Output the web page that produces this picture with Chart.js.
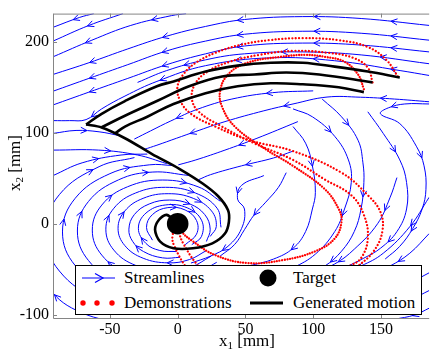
<!DOCTYPE html>
<html lang="en">
<head>
  <meta charset="UTF-8" />
  <title>Streamlines, demonstrations and generated motion</title>
  <script src="https://cdn.jsdelivr.net/npm/chart.js"></script>
  <style>
    html, body { margin: 0; padding: 0; background: #fff; }
    body { width: 440px; height: 355px; overflow: hidden; font-family: "Liberation Serif", "Times New Roman", Tinos, "Noto Serif", "DejaVu Serif", serif; color: #000; }
    .wrap { position: relative; width: 440px; height: 355px; }
    .wrap canvas { position: absolute; left: 0; top: 0; }
    .xlabel { position: absolute; left: 187px; top: 331px; width: 120px; line-height: 20px; text-align: center; font-size: 17px; }
    .ylabel { position: absolute; left: -35px; top: 153px; width: 100px; line-height: 20px; text-align: center; font-size: 17px; transform: rotate(-90deg); }
    sub { font-size: 11px; vertical-align: -3px; line-height: 0; }
    .legend { position: absolute; left: 75px; top: 265px; width: 347px; height: 50px; box-sizing: border-box; border: 1px solid #000; background: #fff; }
    .legend span { position: absolute; font-size: 17px; line-height: 20px; white-space: nowrap; }
    .legend svg { position: absolute; }
  </style>
</head>
<body>
<div class="wrap">
  <canvas id="flow" width="440" height="355"></canvas>
  <div class="xlabel">x<sub>1</sub> [mm]</div>
  <div class="ylabel">x<sub>2</sub> [mm]</div>

  <!-- legend -->
  <div class="legend">
    <svg style="left:6px;top:6px" width="36" height="12">
      <line x1="0" y1="6" x2="33" y2="6" stroke="#0000ff" stroke-width="1.2" />
      <polyline points="13,1.5 21,6 13,10.5" fill="none" stroke="#0000ff" stroke-width="1.2" />
    </svg>
    <span style="left:48px;top:2px">Streamlines</span>
    <svg style="left:182px;top:2px" width="20" height="20">
      <circle cx="10" cy="10" r="8.5" fill="#000" />
    </svg>
    <span style="left:217px;top:2px">Target</span>
    <svg style="left:2px;top:31px" width="42" height="12">
      <circle cx="5" cy="6" r="2.7" fill="#ff0000" />
      <circle cx="19" cy="6" r="2.7" fill="#ff0000" />
      <circle cx="34" cy="6" r="2.7" fill="#ff0000" />
    </svg>
    <span style="left:48px;top:27px">Demonstrations</span>
    <svg style="left:174px;top:31px" width="34" height="12">
      <line x1="0" y1="6" x2="33" y2="6" stroke="#000" stroke-width="3" />
    </svg>
    <span style="left:217px;top:27px">Generated motion</span>
  </div>
</div>

<script>
  // axes
  const xTicks = [-50, 0, 50, 100, 150];
  const yTicks = [-100, 0, 100, 200];
  const xRange = [-92, 185.6];
  const yRange = [-103.6, 230.9];

  const target = [[0, 0]];

  // demonstrations (red, dotted)
  const demoA = [[137.4,147.8],[133.1,164.0],[123.1,178.0],[108.7,183.4],[94.4,185.5],[75.8,183.4],[51.4,176.9],[37.1,164.0],[31.3,145.6],[32.8,128.4],[42.1,106.8],[63.6,83.1],[85.1,63.6],[108.7,37.8],[118.8,16.2],[120.9,2.2],[115.9,-16.2],[101.6,-30.2],[77.9,-39.9],[51.4,-43.2],[27.7,-34.5],[11.3,-19.4],[2.7,-8.6],[0,0]];
  const demoB = [[143.8,155.3],[140.3,171.5],[129.5,182.3],[111.6,187.7],[85.1,189.9],[60.0,185.5],[38.5,178.0],[22.0,167.2],[12.7,153.2],[10.5,137.0],[15.6,123.0],[31.3,107.9],[56.4,88.5],[85.1,70.1],[108.7,48.5],[128.1,31.3],[137.4,9.7],[140.3,-16.2],[135.3,-37.8],[126.7,-46.4],[99.4,-68.0],[56.4,-75.5],[26.3,-62.6],[13.4,-43.1],[4.1,-21.6],[1.2,-10.8],[0,0]];
  const demoC = [[162.5,161.8],[153.9,180.1],[140.3,194.2],[118.8,201.7],[92.3,203.9],[67.2,201.7],[45.7,196.3],[27.7,187.7],[13.4,176.9],[4.1,164.0],[-0.2,149.9],[2.0,134.8],[9.8,120.8],[27.7,106.8],[52.9,91.7],[85.1,79.8],[120.9,56.1],[140.3,31.3],[149.6,12.9],[151.0,-8.6],[144.6,-30.2],[133.1,-46.4],[106.6,-75.5],[63.6,-86.3],[24.2,-73.4],[8.4,-51.8],[-2.4,-24.8],[-3.8,-12.9],[0,0]];

  // generated motions (black): three upper arcs joining one descent into the target
  const motionTop1 = [[163.9,160.7],[140.3,167.2],[115.9,172.6],[92.3,176.9],[68.6,176.9],[44.2,173.7],[20.6,167.2],[-3.1,156.4],[-15.3,151.0],[-38.9,134.8],[-56.1,120.8],[-67.6,109.0]];
  const motionTop2 = [[143.8,155.3],[104.4,164.0],[80.1,166.1],[56.4,164.0],[32.8,161.8],[8.4,151.0],[-15.3,134.8],[-38.9,118.7],[-56.1,106]];
  const motionTop3 = [[137.4,144.6],[118.8,149.9],[92.3,153.2],[68.6,154.3],[44.2,151.0],[20.6,143.5],[-3.1,131.6],[-22.4,117.6],[-38.9,106.8],[-46,99.5]];
  const motionDescent = [[-67.6,109.0],[-56.1,105.7],[-38.9,93.9],[-18.9,76.6],[1.2,60.4],[18.4,44.2],[29.9,30.2],[37.1,15.1],[37.8,2.2],[34.9,-10.8],[25.6,-21.6],[11.3,-27.0],[-3.1,-27.0],[-13.1,-19.4],[-16.7,-6.5],[-13.8,4.3],[-8.1,9.7],[0,0]];

  // streamlines, each listed in the flow direction
  const streamUpper = [
    [[-61.9,230.9],[-72.6,226.6],[-92,215.8]],
    [[-40.4,230.9],[-65.5,217.9],[-92,200.7]],
    [[6.2,230.9],[-4.5,228.7],[-34.6,217.9],[-63.3,201.7],[-92,183.4]],
    [[185.6,217.9],[135.4,225.5],[92.3,227.6],[49.3,224.4],[20.6,216.8],[-8.1,206.1],[-36.8,192.1],[-65.5,176.9],[-92,164.0]],
    [[185.6,201.7],[135.4,209.3],[92.3,211.5],[49.3,208.2],[20.6,200.7],[-8.1,189.9],[-36.8,174.8],[-65.5,159.7],[-92,145.6]],
    [[185.6,188.8],[135.4,196.3],[92.3,198.5],[49.3,195.3],[20.6,186.7],[-8.1,174.8],[-36.8,159.7],[-65.5,144.6],[-92,130.5]],
    [[185.6,175.8],[135.4,185.5],[92.3,188.8],[49.3,186.7],[20.6,180.1],[-8.1,168.3],[-29.6,155.3]],
    [[185.6,162.9],[164.1,168.3],[115.9,179.1],[68.6,182.3],[20.6,173.7],[-15.3,156.4],[-38.9,140.3],[-56.1,126.2],[-67.6,114.4],[-79.8,113.3],[-92,113.3]]
  ];
  const streamLeft = [
    [[-92,99.2],[-75,102.5],[-58,101],[-42,96.5]],
    [[-92,80.9],[-58.3,80.9],[-29.6,75.5],[-8,66]],
    [[-92,52.9],[-70.5,66.9],[-41.8,75.5],[-22.4,76.5]]
  ];
  const streamWedge = [
    [[100,146],[70,144],[40,137],[15,126],[-5,113],[-20,102],[-32,93]],
    [[185.6,134],[160,137],[135,139],[110.2,139.2],[85.1,131.6],[63.6,124.1],[34.9,112.2],[13.4,101.4],[-0.9,93.9],[-15.3,86.3],[-25,81.5]],
    [[88.7,112.2],[58.5,93.9],[34.9,80.9],[13.4,70.1],[0.5,64.7]],
    [[85.1,79.8],[70.8,72.3],[47.1,63.6],[24.2,53.9],[15.6,48.5]]
  ];
  const streamRight = [
    [[85.1,126.2],[99.4,117.5],[115.9,96.0],[126.0,70.1],[128.1,45.3],[123.1,16.2],[115.9,-8.6],[101.6,-33.4],[85.1,-48.5],[63.6,-62.6],[42.1,-71.2]],
    [[106.6,137.0],[120.9,117.5],[133.1,91.7],[136.7,66.9],[137.4,45.3],[135.3,16.2],[130.3,-8.6],[120.9,-30.2],[108.7,-46.4],[88.7,-62.6]],
    [[140.3,123.0],[151.7,99.2],[163.9,70.1],[168.9,45.3],[168.9,16.2],[161.8,-8.6],[149.6,-27.0],[137.4,-37.8],[124.4,-47.5]],
    [[185.6,131.6],[167.6,131.6],[155.4,127.3],[149.6,120.8],[163.9,110.0],[176.1,85.2],[181.8,63.6],[183.2,37.8],[180.4,16.2],[173.4,-5.4],[163.9,-24.8],[153.1,-38.8]],
    [[85.1,106.8],[94.4,88.5],[99.4,63.6],[101.6,34.5],[99.4,16.2],[94.4,-8.6],[85.1,-27.0],[70.8,-38.8],[52.8,-46.4]],
    [[80.1,56.1],[74.3,39.9],[65.0,23.7],[56.4,9.7],[49.3,-6.5],[42.1,-22.7],[31.3,-35.6]],
    [[63.6,52.9],[47.1,42.1],[44.2,27.0],[49.3,16.2],[47.1,-5.4],[37.1,-24.8],[24.2,-35.6],[9.8,-43.2]]
  ];
  const streamEdge = [
    [[161.8,50.7],[156.8,29.1],[147.5,0],[130.3,-28],[115.9,-44.2],[95,-58]],
    [[185.6,29.1],[171.3,-3.2],[151.7,-32.4],[135.3,-46.4],[110,-62]],
    [[185.6,-10.8],[171.3,-32.4],[156.8,-46.4],[135,-62]],
    [[185.6,-53.9],[171.3,-64.7],[150,-75]],
    [[185.6,-73.4],[173.4,-82.0],[150,-92]],
    [[185.6,-92.8],[174.8,-100.3],[160,-105]]
  ];
  const streamSpiral = [
    [[10,-106],[-40,-108],[-75,-95],[-96,-68],[-104,-30]],
    [[33.4,-74.3],[9.4,-88.9],[-18,-94],[-58,-82.7],[-87.3,-52],[-98,-10],[-87.3,32],[-58,62.7],[-31.9,72.7]],
    [[38.6,-56.6],[14.6,-76],[-15,-83],[-50,-73],[-75.6,-46],[-85,-9],[-75.6,28],[-50,55],[-21,64.7],[-3,63.9]],
    [[33.7,-49.8],[12.8,-66.9],[-13,-73],[-43.5,-64.3],[-65.8,-40.5],[-74,-8],[-65.8,24.5],[-43.5,48.3],[-18.3,56.8],[7.9,53.1]],
    [[28.8,-42.4],[11,-56.8],[-11,-62],[-37,-54.6],[-56,-34.5],[-63,-7],[-56,20.5],[-37,40.6],[-11,48],[15,40.6],[31.6,24.6]],
    [[24.7,-35.6],[9.6,-47.7],[-9,-52],[-31,-45.8],[-47.1,-29],[-53,-6],[-47.1,17],[-31,33.8],[-9,40],[13,33.8],[29.1,17],[32,-4]],
    [[21.3,-29.4],[8.6,-39.4],[-7,-43],[-25.5,-37.9],[-39,-24],[-44,-5],[-39,14],[-25.5,27.9],[-7,33],[11.5,27.9],[25,14],[28.5,-3],[24,-14]],
    [[1.8,-36.9],[-11.2,-37.5],[-25.3,-30.5],[-33.2,-19.5],[-36,-6],[-32,10],[-21,21.7],[-6,26],[9,21.7],[20,10],[24,-6],[21.2,-19.5]],
    [[-0.8,-30.6],[-13.2,-29.4],[-23.4,-21.7],[-29,-5],[-23.4,11.7],[-9.2,20.6],[7,17.5],[17.6,3.9],[17.6,-13.9],[10.4,-23]],
    [[-18.6,-18.1],[-23,-4],[-18.6,10.1],[-7.3,17.7],[5.5,15.1],[13.9,3.5],[13.9,-11.5],[5.5,-23.1]]
  ];

  const BLUE = '#0000ff';
  const RED = '#ff0000';
  const FRAME = '#858585';

  function toXY(pts) {
    return pts.map(p => ({ x: p[0], y: p[1] }));
  }

  function curve(pts, color, width, extra) {
    return Object.assign({
      data: toXY(pts),
      showLine: true,
      borderColor: color,
      borderWidth: width,
      pointRadius: 0,
      tension: 0.4,
      fill: false
    }, extra || {});
  }

  const datasets = [];
  [streamUpper, streamLeft, streamWedge, streamRight, streamEdge, streamSpiral].forEach(group => {
    group.forEach(s => datasets.push(curve(s, BLUE, 1, { order: 4, arrows: true })));
  });
  datasets.push(curve(demoA, RED, 2.3, { order: 3, borderDash: [0.01, 2.6], borderCapStyle: 'round' }));
  datasets.push(curve(demoB, RED, 2.3, { order: 3, borderDash: [0.01, 3.4], borderCapStyle: 'round' }));
  datasets.push(curve(demoC, RED, 2.3, { order: 3, borderDash: [0.01, 3.4], borderCapStyle: 'round' }));
  [motionTop1, motionTop2, motionTop3].forEach(m => {
    datasets.push(curve(m, '#000', 2.6, { order: 2 }));
  });
  datasets.push(curve(motionDescent, '#000', 2.6, { order: 2, tension: 0.3 }));
  datasets.push({
    data: toXY(target),
    showLine: false,
    pointRadius: 10.8,
    pointBackgroundColor: '#000',
    pointBorderWidth: 0,
    order: 1
  });

  // arrowheads along each streamline, spaced by path length
  const arrowPlugin = {
    id: 'arrows',
    afterDatasetDraw(chart, args) {
      const ds = chart.data.datasets[args.index];
      if (!ds.arrows) return;
      const pts = args.meta.data;
      const path = [];
      for (let k = 0; k < pts.length - 1; k++) {
        const p = pts[k], q = pts[k + 1];
        const c1x = p.cp2x ?? p.x, c1y = p.cp2y ?? p.y;
        const c2x = q.cp1x ?? q.x, c2y = q.cp1y ?? q.y;
        for (let s = 0; s < 12; s++) {
          const t = s / 12, u = 1 - t;
          path.push([
            u * u * u * p.x + 3 * u * u * t * c1x + 3 * u * t * t * c2x + t * t * t * q.x,
            u * u * u * p.y + 3 * u * u * t * c1y + 3 * u * t * t * c2y + t * t * t * q.y
          ]);
        }
      }
      const last = pts[pts.length - 1];
      path.push([last.x, last.y]);

      const cum = [0];
      for (let k = 1; k < path.length; k++) {
        cum.push(cum[k - 1] + Math.hypot(path[k][0] - path[k - 1][0], path[k][1] - path[k - 1][1]));
      }
      const total = cum[cum.length - 1];
      const n = Math.max(1, Math.round(total / 85));
      const at = d => {
        let k = 1;
        while (k < cum.length - 1 && cum[k] < d) k++;
        const f = (d - cum[k - 1]) / ((cum[k] - cum[k - 1]) || 1);
        return [path[k - 1][0] + f * (path[k][0] - path[k - 1][0]), path[k - 1][1] + f * (path[k][1] - path[k - 1][1])];
      };

      const { ctx, chartArea: a } = chart;
      ctx.save();
      ctx.beginPath();
      ctx.rect(a.left, a.top, a.right - a.left, a.bottom - a.top);
      ctx.clip();
      ctx.strokeStyle = BLUE;
      ctx.lineWidth = 1;
      for (let j = 0; j < n; j++) {
        const d = (j + 0.5) * total / n;
        const tip = at(d);
        const back = at(Math.max(0, d - 4));
        const ang = Math.atan2(tip[1] - back[1], tip[0] - back[0]);
        const len = 7, spread = 0.45;
        ctx.beginPath();
        ctx.moveTo(tip[0] - len * Math.cos(ang - spread), tip[1] - len * Math.sin(ang - spread));
        ctx.lineTo(tip[0], tip[1]);
        ctx.lineTo(tip[0] - len * Math.cos(ang + spread), tip[1] - len * Math.sin(ang + spread));
        ctx.stroke();
      }
      ctx.restore();
    }
  };

  // MATLAB-like frame with inward ticks
  const framePlugin = {
    id: 'frame',
    afterDraw(chart) {
      const { ctx, chartArea: a, scales } = chart;
      ctx.save();
      ctx.strokeStyle = FRAME;
      ctx.lineWidth = 1;
      ctx.beginPath();
      ctx.moveTo(a.left + 0.5, a.top + 0.5);
      ctx.lineTo(a.right, a.top + 0.5);
      ctx.moveTo(a.left + 0.5, a.top);
      ctx.lineTo(a.left + 0.5, a.bottom + 0.5);
      ctx.lineTo(a.right, a.bottom + 0.5);
      xTicks.forEach(v => {
        const px = Math.round(scales.x.getPixelForValue(v)) + 0.5;
        ctx.moveTo(px, a.bottom);
        ctx.lineTo(px, a.bottom - 4);
        ctx.moveTo(px, a.top);
        ctx.lineTo(px, a.top + 4);
      });
      yTicks.forEach(v => {
        const py = Math.round(scales.y.getPixelForValue(v)) + 0.5;
        ctx.moveTo(a.left, py);
        ctx.lineTo(a.left + 4, py);
      });
      ctx.stroke();
      ctx.restore();
    }
  };

  const tickFont = { family: '"Liberation Serif", "Times New Roman", Tinos, "Noto Serif", "DejaVu Serif", serif', size: 16 };

  new Chart(document.getElementById('flow'), {
    type: 'scatter',
    data: { datasets },
    options: {
      responsive: false,
      animation: false,
      events: [],
      layout: { padding: { top: 8, right: 0, left: 0, bottom: 0 } },
      plugins: { legend: { display: false }, tooltip: { enabled: false } },
      scales: {
        x: {
          type: 'linear',
          min: xRange[0],
          max: xRange[1],
          afterBuildTicks: s => { s.ticks = xTicks.map(v => ({ value: v })); },
          afterFit: s => { s.height = 37; },
          grid: { display: false, drawTicks: false },
          border: { display: false },
          ticks: { font: tickFont, color: '#000', padding: 2, autoSkip: false, maxRotation: 0 }
        },
        y: {
          type: 'linear',
          min: yRange[0],
          max: yRange[1],
          afterBuildTicks: s => { s.ticks = yTicks.map(v => ({ value: v })); },
          afterFit: s => { s.width = 53; },
          grid: { display: false, drawTicks: false },
          border: { display: false },
          ticks: { font: tickFont, color: '#000', padding: 4, autoSkip: false }
        }
      }
    },
    plugins: [arrowPlugin, framePlugin]
  });
</script>
</body>
</html>
